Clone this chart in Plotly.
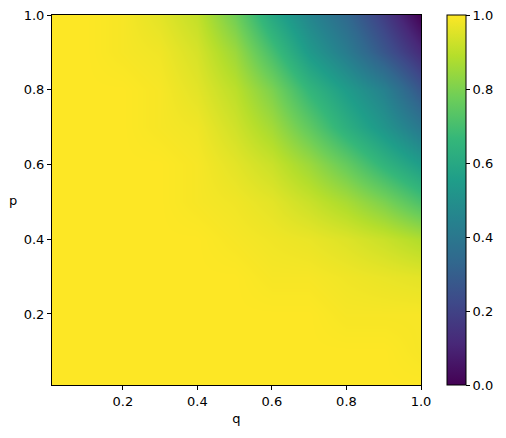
import plotly.graph_objects as go

# grid
q_vals = [0.01, 0.1, 0.2, 0.3, 0.4, 0.5, 0.6, 0.7, 0.8, 0.9, 1.0]
p_vals = [0.01, 0.1, 0.2, 0.3, 0.4, 0.5, 0.6, 0.7, 0.8, 0.9, 1.0]

# rows follow p_vals (bottom to top), columns follow q_vals
z_p001 = [1.00, 1.00, 1.00, 1.00, 1.00, 1.00, 1.00, 1.00, 1.00, 1.00, 1.00]
z_p01 = [1.00, 1.00, 1.00, 1.00, 1.00, 1.00, 1.00, 1.00, 1.00, 1.00, 0.99]
z_p02 = [1.00, 1.00, 1.00, 1.00, 1.00, 1.00, 1.00, 1.00, 0.99, 0.99, 0.99]
z_p03 = [1.00, 1.00, 1.00, 1.00, 1.00, 1.00, 0.99, 0.99, 0.98, 0.97, 0.96]
z_p04 = [1.00, 1.00, 1.00, 1.00, 1.00, 0.99, 0.98, 0.97, 0.95, 0.92, 0.88]
z_p05 = [1.00, 1.00, 1.00, 1.00, 0.99, 0.98, 0.96, 0.92, 0.87, 0.80, 0.71]
z_p06 = [1.00, 1.00, 1.00, 1.00, 0.99, 0.96, 0.92, 0.85, 0.76, 0.65, 0.55]
z_p07 = [1.00, 1.00, 1.00, 0.99, 0.98, 0.93, 0.86, 0.75, 0.63, 0.52, 0.40]
z_p08 = [1.00, 1.00, 1.00, 0.99, 0.96, 0.90, 0.80, 0.66, 0.55, 0.44, 0.27]
z_p09 = [1.00, 1.00, 0.99, 0.98, 0.94, 0.85, 0.70, 0.54, 0.42, 0.27, 0.12]
z_p10 = [1.00, 1.00, 0.99, 0.96, 0.91, 0.78, 0.60, 0.46, 0.34, 0.18, 0.00]

z_grid = [z_p001, z_p01, z_p02, z_p03, z_p04, z_p05, z_p06, z_p07, z_p08, z_p09, z_p10]

tick_vals = [0.2, 0.4, 0.6, 0.8, 1.0]
cbar_ticks = [0.0, 0.2, 0.4, 0.6, 0.8, 1.0]

font = dict(family="DejaVu Sans", size=13, color="black")

fig = go.Figure(
    go.Heatmap(
        x=q_vals,
        y=p_vals,
        z=z_grid,
        zmin=0,
        zmax=1,
        zsmooth="best",
        colorscale="Viridis",
        colorbar=dict(
            x=1.07,
            xanchor="left",
            xpad=0,
            y=0.5,
            ypad=0,
            len=1.0,
            lenmode="fraction",
            thickness=19,
            outlinewidth=1,
            outlinecolor="black",
            tickvals=cbar_ticks,
            tickformat=".1f",
            ticks="outside",
            ticklen=4,
            tickcolor="black",
            tickfont=font,
        ),
    )
)

axis_common = dict(
    tickvals=tick_vals,
    tickformat=".1f",
    ticks="outside",
    ticklen=4,
    tickcolor="black",
    showline=True,
    linecolor="black",
    linewidth=1,
    mirror=True,
    showgrid=False,
    zeroline=False,
    automargin=False,
    tickfont=font,
)

fig.update_layout(
    width=506,
    height=438,
    margin=dict(l=52, r=85, t=15, b=53, autoexpand=False),
    paper_bgcolor="white",
    plot_bgcolor="white",
    font=font,
    xaxis=dict(range=[0.01, 1.0], title=dict(text="q", font=font, standoff=6), **axis_common),
    yaxis=dict(range=[0.01, 1.0], **axis_common),
    annotations=[
        dict(
            text="p",
            x=-0.105,
            y=0.5,
            xref="paper",
            yref="paper",
            xanchor="center",
            yanchor="middle",
            showarrow=False,
            font=font,
        )
    ],
)

# the page body has a default 8px margin; drop it so the figure sits at the corner
fig.write_html(
    "out.html",
    config={"displayModeBar": False},
    post_script="document.body.style.margin='0';",
)
